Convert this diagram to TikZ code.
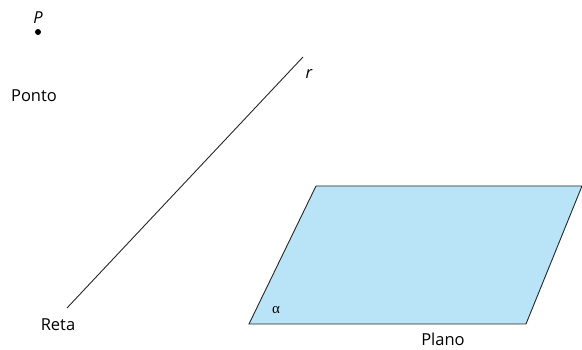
\documentclass[tikz,border=0pt]{standalone}
\usepackage{fontspec}
\setmainfont{Open Sans}
\newfontfamily\greekserif{Liberation Serif}
\definecolor{planefill}{HTML}{B9E4F7}
\begin{document}
\begin{tikzpicture}[x=1pt,y=-1pt,
  lbl/.style={inner sep=0pt,font=\fontsize{16.5}{19}\selectfont},
  ital/.style={lbl,font=\fontsize{16.5}{19}\selectfont\itshape},
  edge/.style={draw=black!85,line width=0.9pt}]
\useasboundingbox (0,0) rectangle (582,350);
% point
\fill[black] (38,32) circle (3);
\node[ital] (P) at (38,18) {P};
\node[lbl] (ponto) at (34,96) {Ponto};
% line
\coordinate (r1) at (67,308);
\coordinate (r2) at (303,57);
\draw[edge] (r1) -- (r2);
\node[ital] (r) at (309,74) {r};
\node[lbl] (reta) at (58,325) {Reta};
% plane
\coordinate (a) at (249,324);
\coordinate (b) at (526,324);
\coordinate (c) at (582,186);
\coordinate (d) at (316,186);
\filldraw[fill=planefill,edge] (a) -- (b) -- (c) -- (d) -- cycle;
\node[lbl,font=\fontsize{15}{17}\selectfont\greekserif] (alpha) at (276,310) {α};
\node[lbl] (plano) at (443,339) {Plano};
\end{tikzpicture}
\end{document}
